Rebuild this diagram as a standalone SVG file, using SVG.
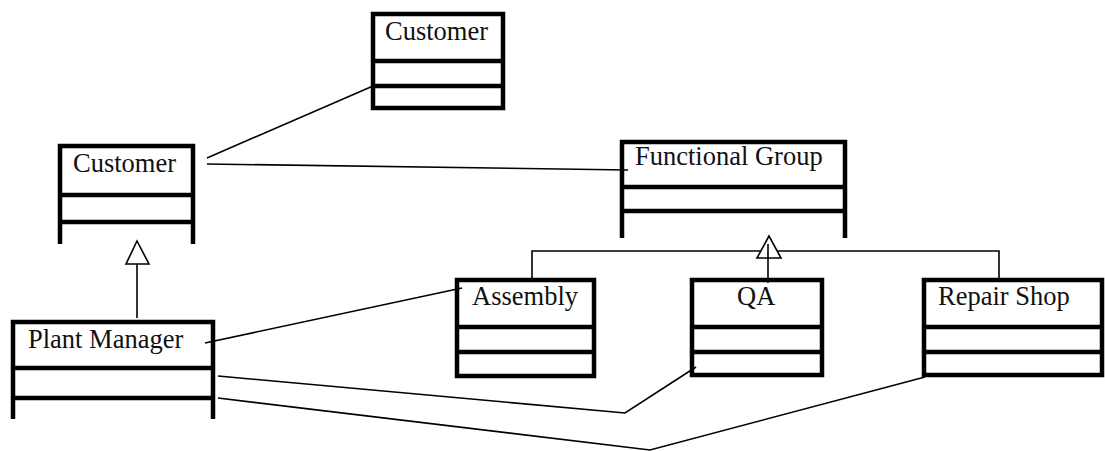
<svg xmlns="http://www.w3.org/2000/svg" width="1105" height="451" viewBox="0 0 1105 451">
<style>
.box{fill:none;stroke:#000;stroke-width:4.5}
.div{stroke:#000;stroke-width:4.5}
.lbl{font-family:"Liberation Serif","Times New Roman",serif;font-size:26.5px;fill:#111}
.conn{fill:none;stroke:#000;stroke-width:1.6}
.tri{fill:#fff;stroke:#000;stroke-width:1.6}
</style>
<rect width="1105" height="451" fill="#fff"/>
<g id="connectors">
<polyline class="conn" points="207,158 373,86"/>
<polyline class="conn" points="207,164 628,170"/>
<polyline class="conn" points="205,343 462,288"/>
<polyline class="conn" points="218,376 625,413 696,367"/>
<polyline class="conn" points="218,398 650,450 925,377"/>
<line class="conn" x1="137" y1="248" x2="137" y2="318"/>
<polygon class="tri" points="137,241 126,264 149,264"/>
<polyline class="conn" points="532,278 532,251 999,251 999,278"/>
<line class="conn" x1="768" y1="258" x2="768" y2="283"/>
<polygon class="tri" points="769,236 757,258 781,258"/>
<line class="conn" x1="768" y1="244" x2="768" y2="258"/>
</g>
<g id="customer-top">
<rect class="box" x="373" y="14" width="130" height="94"/>
<line class="div" x1="373" y1="61" x2="503" y2="61"/>
<line class="div" x1="373" y1="86" x2="503" y2="86"/>
<text class="lbl" x="385" y="40">Customer</text>
</g>
<g id="customer-left">
<polyline class="box" points="60,244 60,146 193,146 193,244"/>
<line class="div" x1="60" y1="195" x2="193" y2="195"/>
<line class="div" x1="60" y1="222" x2="193" y2="222"/>
<text class="lbl" x="73" y="172">Customer</text>
</g>
<g id="functional-group">
<polyline class="box" points="622,238 622,142 845,142 845,238"/>
<line class="div" x1="622" y1="187" x2="845" y2="187"/>
<line class="div" x1="622" y1="211" x2="845" y2="211"/>
<text class="lbl" x="635" y="165">Functional Group</text>
</g>
<g id="plant-manager">
<polyline class="box" points="13,419 13,322 213,322 213,419"/>
<line class="div" x1="13" y1="368" x2="213" y2="368"/>
<line class="div" x1="13" y1="398" x2="213" y2="398"/>
<text class="lbl" x="28" y="348">Plant Manager</text>
</g>
<g id="assembly">
<rect class="box" x="457" y="280" width="137" height="96"/>
<line class="div" x1="457" y1="327" x2="594" y2="327"/>
<line class="div" x1="457" y1="352" x2="594" y2="352"/>
<text class="lbl" x="472" y="305">Assembly</text>
</g>
<g id="qa">
<rect class="box" x="692" y="280" width="130" height="95"/>
<line class="div" x1="692" y1="327" x2="822" y2="327"/>
<line class="div" x1="692" y1="352" x2="822" y2="352"/>
<text class="lbl" x="737" y="305">QA</text>
</g>
<g id="repair-shop">
<rect class="box" x="924" y="280" width="178" height="95"/>
<line class="div" x1="924" y1="327" x2="1102" y2="327"/>
<line class="div" x1="924" y1="352" x2="1102" y2="352"/>
<text class="lbl" x="938" y="305">Repair Shop</text>
</g>
</svg>
